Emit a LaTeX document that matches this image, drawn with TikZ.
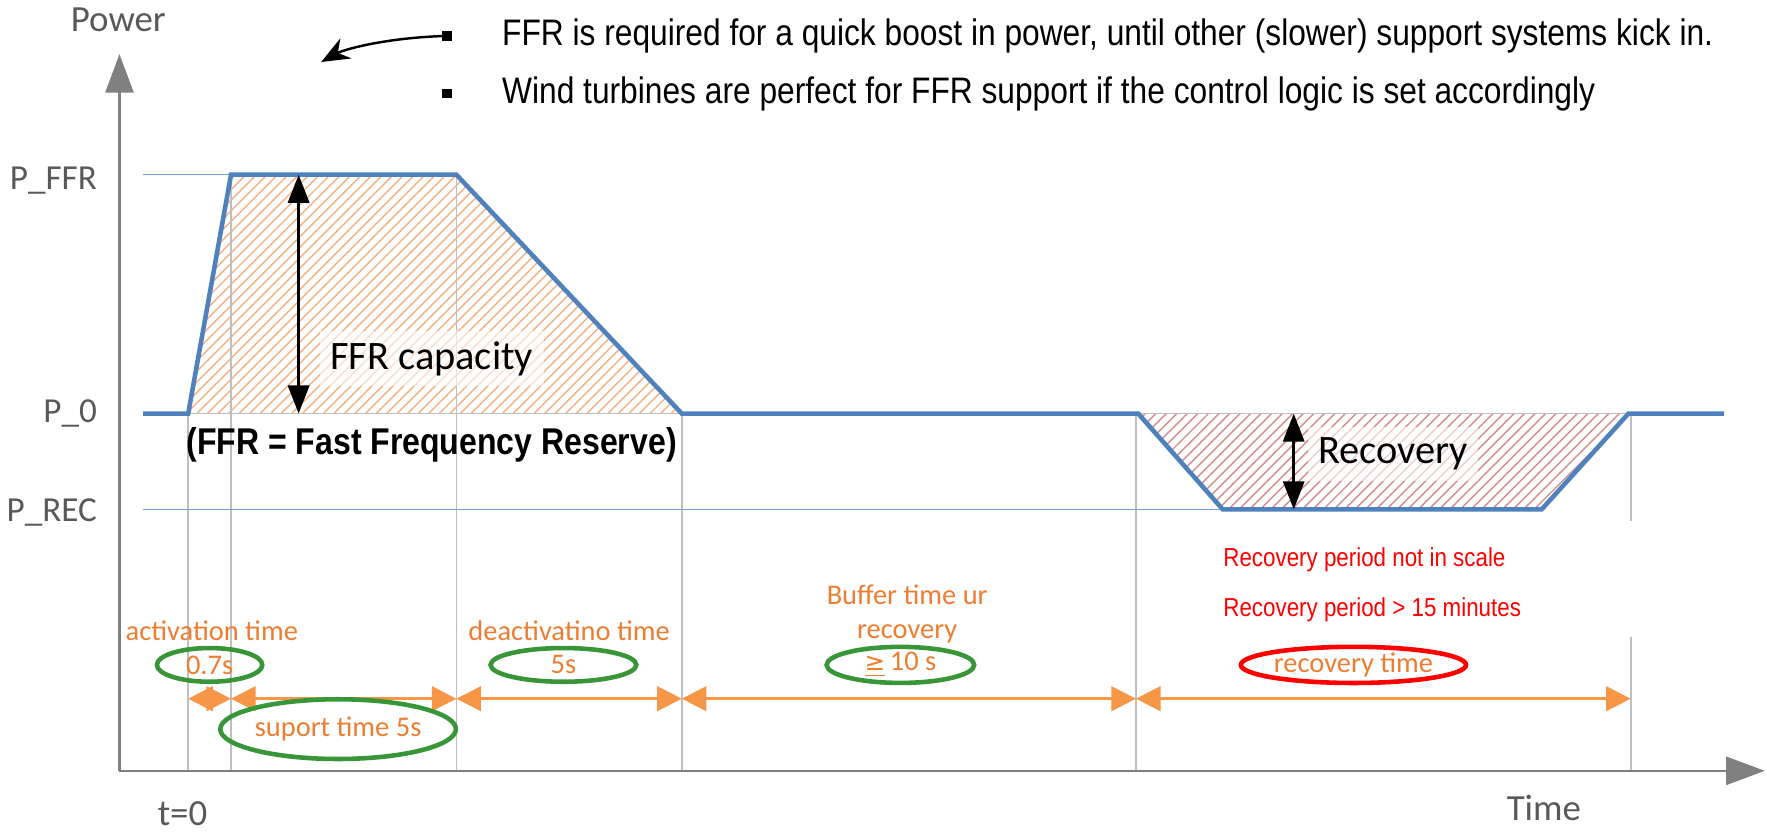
\documentclass[tikz,border=0pt]{standalone}
\usepackage{fontspec}
\setmainfont{Carlito}
\newfontfamily\arialn[FakeStretch=0.86]{Liberation Sans}
\newfontfamily\symfont{DejaVu Sans}
\usetikzlibrary{arrows.meta,patterns,shapes.geometric}
\definecolor{curveblue}{RGB}{79,129,189}
\definecolor{levelblue}{RGB}{120,160,215}
\definecolor{gridgray}{RGB}{191,191,191}
\definecolor{axisgray}{RGB}{128,128,128}
\definecolor{labelgray}{RGB}{89,89,89}
\definecolor{spanorange}{RGB}{247,150,70}
\definecolor{textorange}{RGB}{237,125,49}
\definecolor{ringgreen}{RGB}{56,150,56}
\definecolor{hatchorange}{RGB}{244,177,131}
\definecolor{hatchred}{RGB}{212,140,140}
\begin{document}
\begin{tikzpicture}[x=0.01127cm, y=-0.01127cm,
    axis/.style={draw=axisgray, line width=0.7pt, -{Triangle[length=11pt,width=8pt]}},
    grid line/.style={draw=gridgray, line width=0.5pt},
    level/.style={draw=levelblue, line width=0.4pt},
    power curve/.style={draw=curveblue, line width=1.3pt},
    span/.style={draw=spanorange, line width=0.7pt,
        {Triangle[length=7pt,width=7pt]}-{Triangle[length=7pt,width=7pt]}},
    height arrow/.style={line width=0.9pt,
        {Triangle[length=8pt,width=6pt]}-{Triangle[length=8pt,width=6pt]}},
    axis label/.style={font=\fontsize{10.5}{12}\selectfont, text=labelgray},
    level label/.style={font=\fontsize{10}{12}\selectfont, text=labelgray, anchor=east},
    span label/.style={font=\fontsize{8.1}{9.6}\selectfont, text=textorange, inner sep=1pt, align=center},
    ring/.style={ellipse, draw=ringgreen, line width=1.3pt, inner sep=0pt,
        font=\fontsize{8.1}{9.6}\selectfont, text=textorange},
    area label/.style={font=\fontsize{11.5}{13}\selectfont, fill=white, fill opacity=0.6,
        text opacity=1, inner sep=3pt},
    bullet/.style={fill=black, inner sep=0pt, minimum size=2.8pt},
    note/.style={font=\arialn\fontsize{10.5}{12}\selectfont, anchor=west, inner sep=0pt},
    red note/.style={font=\arialn\fontsize{7.4}{9}\selectfont, text=red, anchor=west, inner sep=0pt}]
    \useasboundingbox (0,0) rectangle (1568,738);

    % Hatched areas
    \fill[pattern=north east lines, pattern color=hatchorange]
        (167,367) -- (205,155) -- (405,155) -- (605,367) -- cycle;
    \fill[pattern=north east lines, pattern color=hatchred]
        (1010,367) -- (1085,452) -- (1368,452) -- (1445,367) -- cycle;

    % Grid
    \foreach \x/\top in {167/367, 205/155, 405/155, 605/367, 1008/367}
        \draw[grid line] (\x,\top) -- (\x,684);
    \draw[grid line] (1447,367) -- (1447,462);
    \draw[grid line] (1447,565) -- (1447,684);
    \draw[grid line] (167,367) -- (605,367);
    \draw[grid line] (1010,367) -- (1445,367);

    % Levels
    \draw[level] (127,155) -- (205,155);
    \draw[level] (127,452) -- (1085,452);
    \node[level label] (pffr) at (97,160) {P\_FFR};
    \node[level label] (pzero) at (97,367) {P\_0};
    \node[level label] (prec) at (97,455) {P\_REC};

    % Axes
    \coordinate (origin) at (106,684);
    \coordinate (ytip) at (106,48);
    \coordinate (xtip) at (1566,684);
    \draw[axis] (origin) -- (ytip);
    \draw[axis] (origin) -- (xtip);
    \node[axis label] (power) at (105,18) {Power};
    \node[axis label] (time) at (1370,717) {Time};
    \node[axis label] (tzero) at (162,722) {t=0};

    % Power curve
    \draw[power curve] (127,367) -- (167,367) -- (205,155) -- (405,155) -- (605,367)
        -- (1010,367) -- (1085,452) -- (1368,452) -- (1445,367) -- (1530,367);

    % Heights
    \coordinate (cap top) at (265,155);
    \coordinate (cap bottom) at (265,367);
    \draw[height arrow] (cap top) -- (cap bottom);
    \node[area label] (capacity) at (383,318) {FFR capacity};
    \coordinate (rec top) at (1148,367);
    \coordinate (rec bottom) at (1148,452);
    \draw[height arrow] (rec top) -- (rec bottom);
    \node[area label] (recovery) at (1236,403) {Recovery};
    \node[font=\arialn\bfseries\fontsize{10.6}{12}\selectfont] (ffrname) at (383,395)
        {(FFR = Fast Frequency Reserve)};

    % Time spans
    \foreach \x [count=\i from 0] in {167,205,405,605,1008,1447}
        \coordinate (s\i) at (\x,620);
    \foreach \a/\b in {0/1, 1/2, 2/3, 3/4, 4/5}
        \draw[span] (s\a) -- (s\b);

    \node[span label] (act) at (188,560) {activation time};
    \node[ring, minimum width=30pt, minimum height=9.6pt] (actval) at (186,590) {0.7s};
    \node[ring, minimum width=57pt, minimum height=17pt] (support) at (300,647) {suport time 5s};
    \node[span label] (deact) at (505,560) {deactivatino time};
    \node[ring, minimum width=41.5pt, minimum height=9.6pt] (deactval) at (500,590) {5s};
    \node[span label] (buffer) at (805,545) {Buffer time ur\\recovery};
    \node[ring, minimum width=42pt, minimum height=9.6pt] (bufferval) at (799,590)
        {\underline{\symfont\fontsize{7}{8}\selectfont ≥}\,10 s};
    \node[ring, draw=red, minimum width=63pt, minimum height=10.3pt] (rectime) at (1201,590)
        {recovery time};

    % Notes
    \node[red note] (scale) at (1085,497) {Recovery period not in scale};
    \node[red note] (period) at (1085,541) {Recovery period > 15 minutes};
    \node[bullet] (b1) at (397,32) {};
    \node[bullet] (b2) at (397,83) {};
    \node[note] (boost) at (445,32) {FFR is required for a quick boost in power, until other (slower) support systems kick in.};
    \node[note] (wind) at (445,83) {Wind turbines are perfect for FFR support if the control logic is set accordingly};
    \coordinate (pointer) at (285,55);
    \draw[-{Stealth[length=8pt,width=6.5pt]}, line width=0.7pt] (b1.west)
        .. controls (340,34) and (305,44) .. (pointer);
\end{tikzpicture}
\end{document}
